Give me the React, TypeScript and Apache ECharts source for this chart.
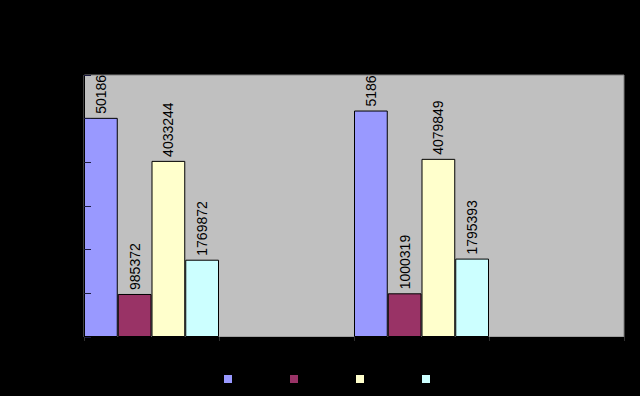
import React, { useEffect, useRef } from "react";
import * as echarts from "echarts";

const categories = ["1", "2", "3", "4"];
const seriesNames = ["S1", "S2", "S3", "S4"];
const series1 = [5018600, null, 5186000, null];
const series2 = [985372, null, 1000319, null];
const series3 = [4033244, null, 4079849, null];
const series4 = [1769872, null, 1795393, null];
// visible (clipped at plot top) label text of the first series
const series1Labels = ["50186", "", "5186", ""];
const colors = ["#9999FF", "#993366", "#FFFFCC", "#CCFFFF"];

export default function App() {
  const ref = useRef<HTMLDivElement>(null);
  useEffect(() => {
    const chart = echarts.init(ref.current!, null, { renderer: "svg" });
    const allData = [series1, series2, series3, series4];
    const labelStyle = {
      show: true,
      position: "top",
      rotate: 90,
      align: "left",
      verticalAlign: "middle",
      distance: 4,
      color: "#000",
      fontSize: 14,
      fontFamily: "Liberation Sans, Arial, sans-serif",
    };
    chart.setOption({
      animation: false,
      backgroundColor: "#000000",
      color: colors,
      grid: {
        left: 84,
        right: 16,
        top: 75,
        bottom: 59,
        show: true,
        backgroundColor: "#C0C0C0",
        borderColor: "#808080",
        borderWidth: 1,
      },
      legend: {
        data: seriesNames,
        left: 219,
        top: 370,
        itemWidth: 8,
        itemHeight: 8,
        itemGap: 58,
        icon: "rect",
        formatter: () => "",
        itemStyle: { borderWidth: 0 },
        textStyle: { color: "#000", fontSize: 1 },
      },
      xAxis: {
        type: "category",
        data: categories,
        z: 5,
        axisLine: { show: true, lineStyle: { color: "#000", width: 1 } },
        axisTick: { show: true, length: 4, lineStyle: { color: "#303030" } },
        axisLabel: { show: false },
        splitLine: { show: false },
      },
      yAxis: {
        type: "value",
        min: 0,
        max: 6000000,
        interval: 1000000,
        z: 5,
        axisLine: { show: true, lineStyle: { color: "#000", width: 1 } },
        axisTick: { show: true, inside: true, length: 7, lineStyle: { color: "#1a1a40" } },
        axisLabel: { show: false },
        splitLine: { show: false },
      },
      series: allData.map((d, i) => ({
        name: seriesNames[i],
        type: "bar",
        data: d,
        barGap: "0%",
        barCategoryGap: "0%",
        itemStyle: { color: colors[i], borderColor: "#000", borderWidth: 1 },
        label:
          i === 0
            ? { ...labelStyle, formatter: (p: any) => series1Labels[p.dataIndex] }
            : { ...labelStyle, formatter: (p: any) => (p.value == null ? "" : String(p.value)) },
      })),
    });
    return () => chart.dispose();
  }, []);
  return (
    <div
      ref={ref}
      style={{ position: "fixed", left: 0, top: 0, width: 640, height: 396 }}
    />
  );
}
